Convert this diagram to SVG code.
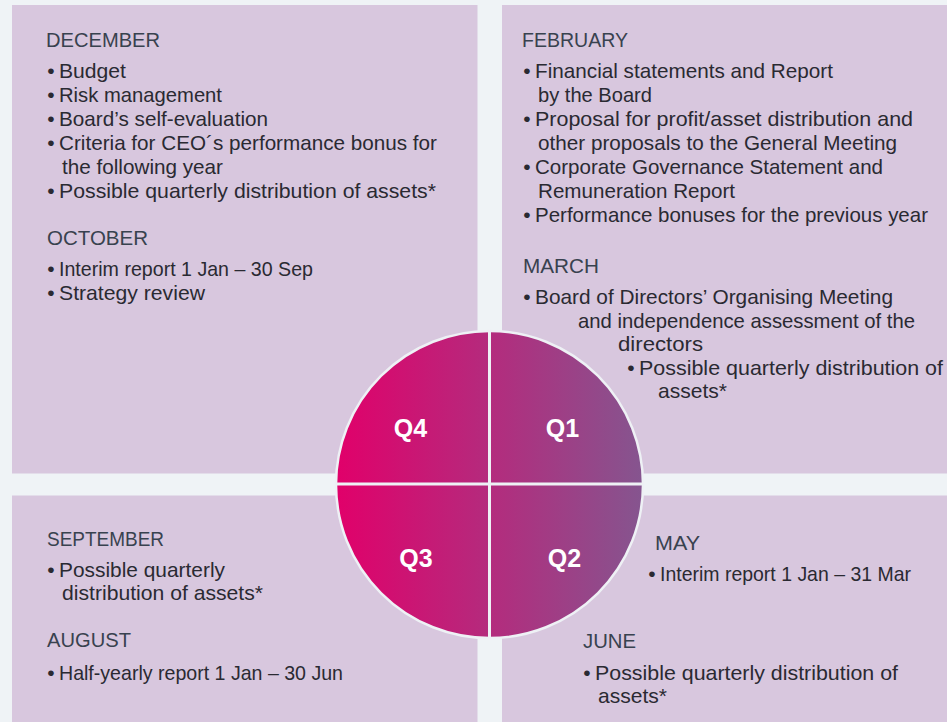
<svg xmlns="http://www.w3.org/2000/svg" width="947" height="722" viewBox="0 0 947 722">
  <defs>
    <linearGradient id="wheelFill" x1="0" y1="0" x2="1" y2="0">
      <stop offset="0" stop-color="#e1006a"/>
      <stop offset="0.5" stop-color="#b42b7d"/>
      <stop offset="1" stop-color="#85558f"/>
    </linearGradient>
    <style>
      .panel { fill: #d8c7de; }
      .hd { font-family: "Liberation Sans", Arial, sans-serif; font-size: 21px; fill: #38424f; }
      .tx { font-family: "Liberation Sans", Arial, sans-serif; font-size: 21px; fill: #2a2a32; }
      .bl { font-family: "Liberation Sans", Arial, sans-serif; font-size: 21px; fill: #2a2a32; }
      .q { font-family: "Liberation Sans", Arial, sans-serif; font-size: 25px; font-weight: bold; fill: #ffffff; text-anchor: middle; }
      .divider { stroke: #eef1f5; stroke-width: 3; }
    </style>
  </defs>

  <!-- page background -->
  <rect x="0" y="0" width="947" height="722" fill="#eff3f6"/>

  <!-- four quarter panels -->
  <g id="panels">
    <rect class="panel" x="12" y="5" width="465.5" height="468.5"/>
    <rect class="panel" x="502" y="5" width="445" height="468.5"/>
    <rect class="panel" x="12" y="495.5" width="465.5" height="226.5"/>
    <rect class="panel" x="502" y="495.5" width="445" height="226.5"/>
  </g>

  <!-- Q4 texts -->
  <g id="december">
    <text class="hd" x="46" y="47" textLength="114" lengthAdjust="spacingAndGlyphs">DECEMBER</text>
    <text class="bl" x="47.3" y="78">•</text>
    <text class="tx" x="59" y="78" textLength="67" lengthAdjust="spacingAndGlyphs">Budget</text>
    <text class="bl" x="47.3" y="102">•</text>
    <text class="tx" x="59" y="102" textLength="163" lengthAdjust="spacingAndGlyphs">Risk management</text>
    <text class="bl" x="47.3" y="126">•</text>
    <text class="tx" x="59" y="126" textLength="209" lengthAdjust="spacingAndGlyphs">Board’s self-evaluation</text>
    <text class="bl" x="47.3" y="150">•</text>
    <text class="tx" x="59" y="150" textLength="378" lengthAdjust="spacingAndGlyphs">Criteria for CEO´s performance bonus for</text>
    <text class="tx" x="62" y="174" textLength="161" lengthAdjust="spacingAndGlyphs">the following year</text>
    <text class="bl" x="47.3" y="198">•</text>
    <text class="tx" x="59" y="198" textLength="377" lengthAdjust="spacingAndGlyphs">Possible quarterly distribution of assets*</text>
  </g>

  <g id="october">
    <text class="hd" x="47" y="245" textLength="101" lengthAdjust="spacingAndGlyphs">OCTOBER</text>
    <text class="bl" x="47.3" y="276">•</text>
    <text class="tx" x="59" y="276" textLength="254" lengthAdjust="spacingAndGlyphs">Interim report 1 Jan – 30 Sep</text>
    <text class="bl" x="47.3" y="300">•</text>
    <text class="tx" x="59" y="300" textLength="146" lengthAdjust="spacingAndGlyphs">Strategy review</text>
  </g>

  <!-- Q1 texts -->
  <g id="february">
    <text class="hd" x="522" y="47" textLength="106" lengthAdjust="spacingAndGlyphs">FEBRUARY</text>
    <text class="bl" x="523.3" y="78">•</text>
    <text class="tx" x="535" y="78" textLength="298" lengthAdjust="spacingAndGlyphs">Financial statements and Report</text>
    <text class="tx" x="538" y="102" textLength="114" lengthAdjust="spacingAndGlyphs">by the Board</text>
    <text class="bl" x="523.3" y="126">•</text>
    <text class="tx" x="535" y="126" textLength="378" lengthAdjust="spacingAndGlyphs">Proposal for profit/asset distribution and</text>
    <text class="tx" x="538" y="150" textLength="359" lengthAdjust="spacingAndGlyphs">other proposals to the General Meeting</text>
    <text class="bl" x="523.3" y="174">•</text>
    <text class="tx" x="535" y="174" textLength="348" lengthAdjust="spacingAndGlyphs">Corporate Governance Statement and</text>
    <text class="tx" x="538" y="198" textLength="197" lengthAdjust="spacingAndGlyphs">Remuneration Report</text>
    <text class="bl" x="523.3" y="222">•</text>
    <text class="tx" x="535" y="222" textLength="393" lengthAdjust="spacingAndGlyphs">Performance bonuses for the previous year</text>
  </g>

  <g id="march">
    <text class="hd" x="523" y="273" textLength="76" lengthAdjust="spacingAndGlyphs">MARCH</text>
    <text class="bl" x="523.3" y="304">•</text>
    <text class="tx" x="535" y="304" textLength="358" lengthAdjust="spacingAndGlyphs">Board of Directors’ Organising Meeting</text>
    <text class="tx" x="578" y="328" textLength="337" lengthAdjust="spacingAndGlyphs">and independence assessment of the</text>
    <text class="tx" x="618" y="351" textLength="85" lengthAdjust="spacingAndGlyphs">directors</text>
    <text class="bl" x="627.3" y="375">•</text>
    <text class="tx" x="639" y="375" textLength="304" lengthAdjust="spacingAndGlyphs">Possible quarterly distribution of</text>
    <text class="tx" x="658" y="398" textLength="69" lengthAdjust="spacingAndGlyphs">assets*</text>
  </g>

  <!-- Q3 texts -->
  <g id="september">
    <text class="hd" x="47" y="546" textLength="117" lengthAdjust="spacingAndGlyphs">SEPTEMBER</text>
    <text class="bl" x="47.3" y="577">•</text>
    <text class="tx" x="59" y="577" textLength="166" lengthAdjust="spacingAndGlyphs">Possible quarterly</text>
    <text class="tx" x="62" y="600" textLength="201" lengthAdjust="spacingAndGlyphs">distribution of assets*</text>
  </g>

  <g id="august">
    <text class="hd" x="47" y="647" textLength="84" lengthAdjust="spacingAndGlyphs">AUGUST</text>
    <text class="bl" x="47.3" y="680">•</text>
    <text class="tx" x="59" y="680" textLength="284" lengthAdjust="spacingAndGlyphs">Half-yearly report 1 Jan – 30 Jun</text>
  </g>

  <!-- Q2 texts -->
  <g id="may">
    <text class="hd" x="655" y="550" textLength="45" lengthAdjust="spacingAndGlyphs">MAY</text>
    <text class="bl" x="648.3" y="581">•</text>
    <text class="tx" x="660" y="581" textLength="251" lengthAdjust="spacingAndGlyphs">Interim report 1 Jan – 31 Mar</text>
  </g>

  <g id="june">
    <text class="hd" x="583" y="648" textLength="53" lengthAdjust="spacingAndGlyphs">JUNE</text>
    <text class="bl" x="583.3" y="680">•</text>
    <text class="tx" x="595" y="680" textLength="303" lengthAdjust="spacingAndGlyphs">Possible quarterly distribution of</text>
    <text class="tx" x="598" y="703" textLength="69" lengthAdjust="spacingAndGlyphs">assets*</text>
  </g>

  <!-- central quarter wheel -->
  <g id="wheel">
    <circle cx="489.5" cy="484.5" r="153.5" fill="url(#wheelFill)" stroke="#eef1f5" stroke-width="2.5"/>
    <line class="divider" x1="489.5" y1="331" x2="489.5" y2="638"/>
    <line class="divider" x1="336" y1="484" x2="643" y2="484"/>
  </g>

  <g id="q4"><text class="q" x="410.5" y="437">Q4</text></g>
  <g id="q1"><text class="q" x="562.5" y="437">Q1</text></g>
  <g id="q3"><text class="q" x="416" y="567">Q3</text></g>
  <g id="q2"><text class="q" x="564.5" y="567">Q2</text></g>
</svg>
